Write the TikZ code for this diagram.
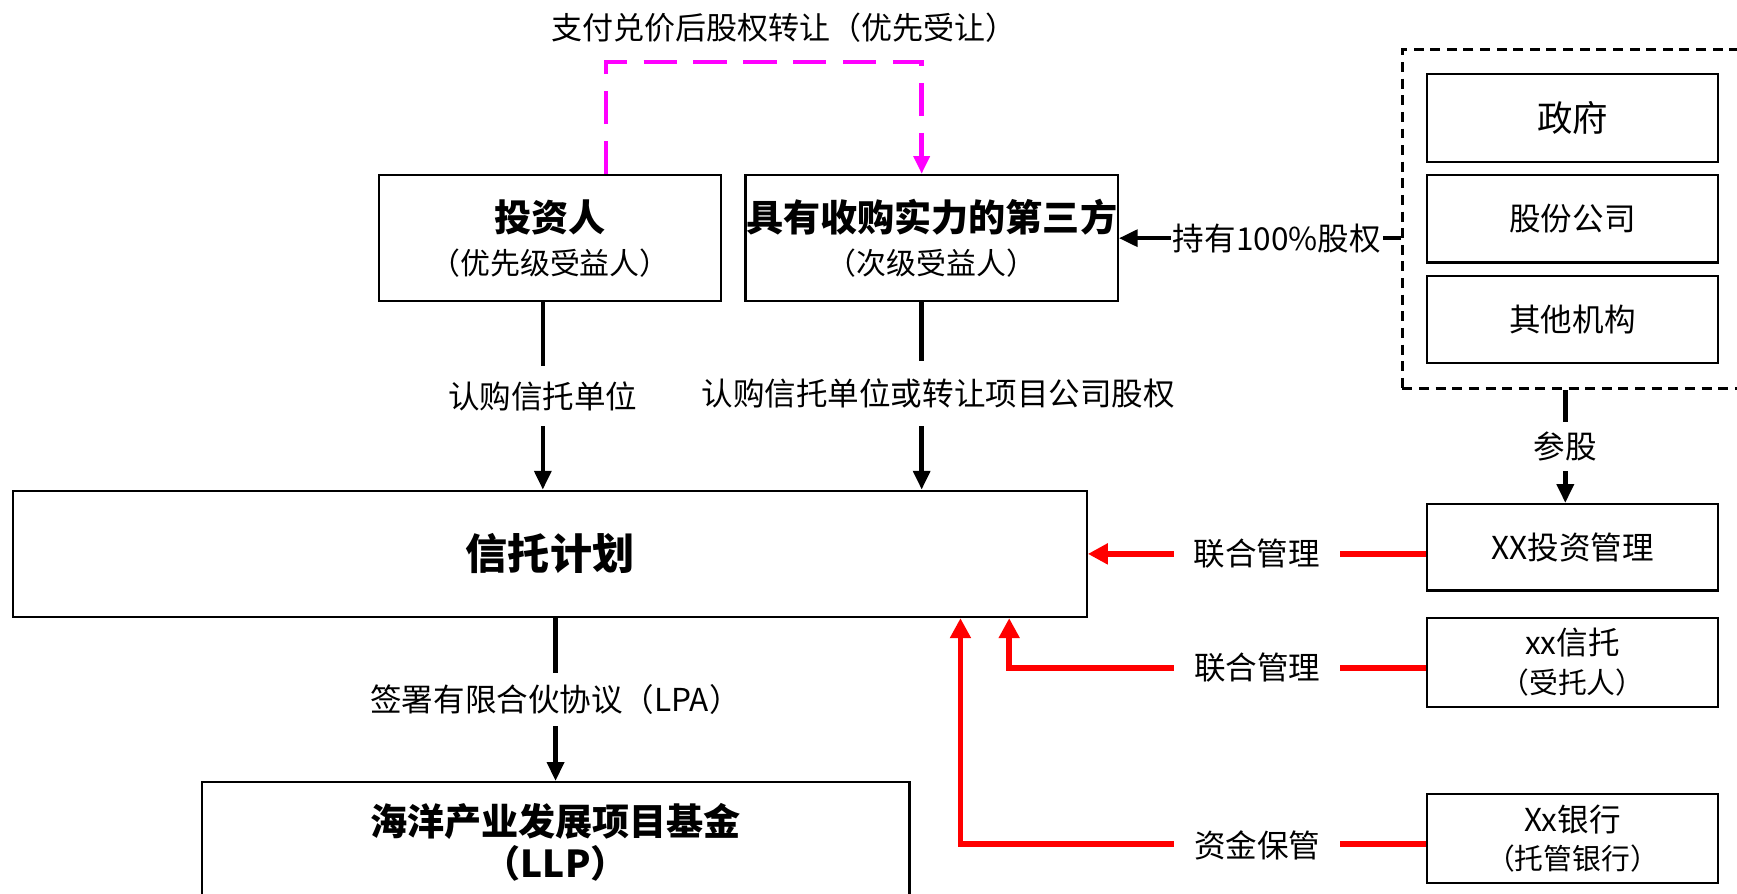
\documentclass[tikz,border=0pt]{standalone}
\usepackage{fontspec}
\setmainfont{Noto Sans CJK SC}
\usetikzlibrary{arrows.meta}
\definecolor{pred}{RGB}{255,0,0}
\definecolor{pmag}{RGB}{255,0,255}
\begin{document}
\begin{tikzpicture}[x=1pt,y=-1pt,
  box/.style={draw=black, line width=2pt, fill=white, inner sep=0pt, align=center},
  blk/.style={draw=black, line width=4pt, -{Triangle[length=17pt,width=15pt]}},
  redarr/.style={draw=pred, line width=5pt, -{Triangle[length=18pt,width=18pt]}},
  lbl/.style={fill=white, inner xsep=3pt, inner ysep=9pt, font=\fontsize{28.5}{32}\selectfont},
  hd/.style={font=\fontsize{27}{39}\selectfont},
]
\useasboundingbox (0,0) rectangle (1568,807);

% top label
\node[font=\fontsize{28}{32}\selectfont] (toplbl) at (708,25) {支付兑价后股权转让（优先受让）};

% upper boxes
\node[box, hd, minimum width=309pt, minimum height=114pt] (inv) at (496.5,215)
  {{\fontsize{33.5}{39}\selectfont\bfseries 投资人}\\（优先级受益人）};
\node[box, hd, minimum width=336pt, minimum height=114pt] (third) at (841,215)
  {{\fontsize{33.5}{39}\selectfont\bfseries 具有收购实力的第三方}\\（次级受益人）};

% dashed group
\node[draw=black, line width=2.5pt, dash pattern=on 9pt off 6pt, minimum width=314pt, minimum height=306pt, inner sep=0pt] (grp) at (1423,198) {};
\node[box, minimum width=263pt, minimum height=79pt, font=\fontsize{32}{36}\selectfont] (gov) at (1419.5,106.5) {政府};
\node[box, minimum width=263pt, minimum height=79pt, font=\fontsize{28.5}{32}\selectfont] (corp) at (1419.5,197.5) {股份公司};
\node[box, minimum width=263pt, minimum height=79pt, font=\fontsize{28.5}{32}\selectfont] (other) at (1419.5,288.5) {其他机构};

% right boxes
\node[box, minimum width=263pt, minimum height=78pt, font=\fontsize{28.5}{32}\selectfont] (xxinv) at (1419.5,494) {XX投资管理};
\node[box, minimum width=263pt, minimum height=80pt, font=\fontsize{26}{35}\selectfont] (xxtr) at (1419.5,598) {{\fontsize{28.5}{35}\selectfont xx信托}\\（受托人）};
\node[box, minimum width=263pt, minimum height=80pt, font=\fontsize{26}{35}\selectfont] (bank) at (1419.5,757) {{\fontsize{28.5}{35}\selectfont Xx银行}\\（托管银行）};

% trust plan
\node[box, minimum width=969pt, minimum height=114pt, font=\fontsize{38}{42}\selectfont\bfseries] (trust) at (496.5,500) {信托计划};

% LLP
\node[box, minimum width=639pt, minimum height=108pt, font=\fontsize{33.5}{38}\selectfont\bfseries] (llp) at (501.5,760) {海洋产业发展项目基金\\（LLP）};

% magenta dashed
\draw[draw=pmag, line width=4pt, dash pattern=on 30pt off 15pt, -{Triangle[length=16pt,width=14pt]}]
  ([xshift=50.5pt]inv.north) -- ++(0,-101) -| ([xshift=-9pt]third.north);

% black arrows
\draw[blk] ([xshift=-6.5pt]inv.south) -- ([xshift=-6.5pt]inv.south |- trust.north)
  node[midway, lbl, inner ysep=14pt] (l1) {认购信托单位};
\draw[blk] ([xshift=-9pt]third.south) -- ([xshift=-9pt]third.south |- trust.north);
\node[lbl, inner ysep=16pt] (l2) at (847,355) {认购信托单位或转让项目公司股权};

\draw[blk] (trust.south -| llp.north) -- (llp.north)
  node[midway, lbl, inner ysep=10pt] (l3) {签署有限合伙协议（LPA）};

\draw[blk] ([xshift=-6.5pt]xxinv.north |- grp.south) -- ([xshift=-6.5pt]xxinv.north)
  node[midway, lbl, inner ysep=9pt] (l4) {参股};

\draw[blk] (grp.west |- third.east) -- (third.east)
  node[pos=0.44, lbl, inner xsep=2pt, inner ysep=4pt] (l5) {持有100\%股权};

% red arrows
\draw[redarr] (xxinv.west |- trust.east) -- (trust.east)
  node[midway, lbl, inner xsep=18pt, inner ysep=4pt] (r1) {联合管理};
\draw[redarr] ([yshift=-5pt]xxtr.west) -| ([xshift=414.5pt]trust.south);
\node[lbl, inner xsep=18pt, inner ysep=4pt] (r2) at (1135,603) {联合管理};
\draw[redarr] ([yshift=-5pt]bank.west) -| ([xshift=370.5pt]trust.south);
\node[lbl, inner xsep=18pt, inner ysep=4pt] (r3) at (1135,763) {资金保管};
\end{tikzpicture}
\end{document}
